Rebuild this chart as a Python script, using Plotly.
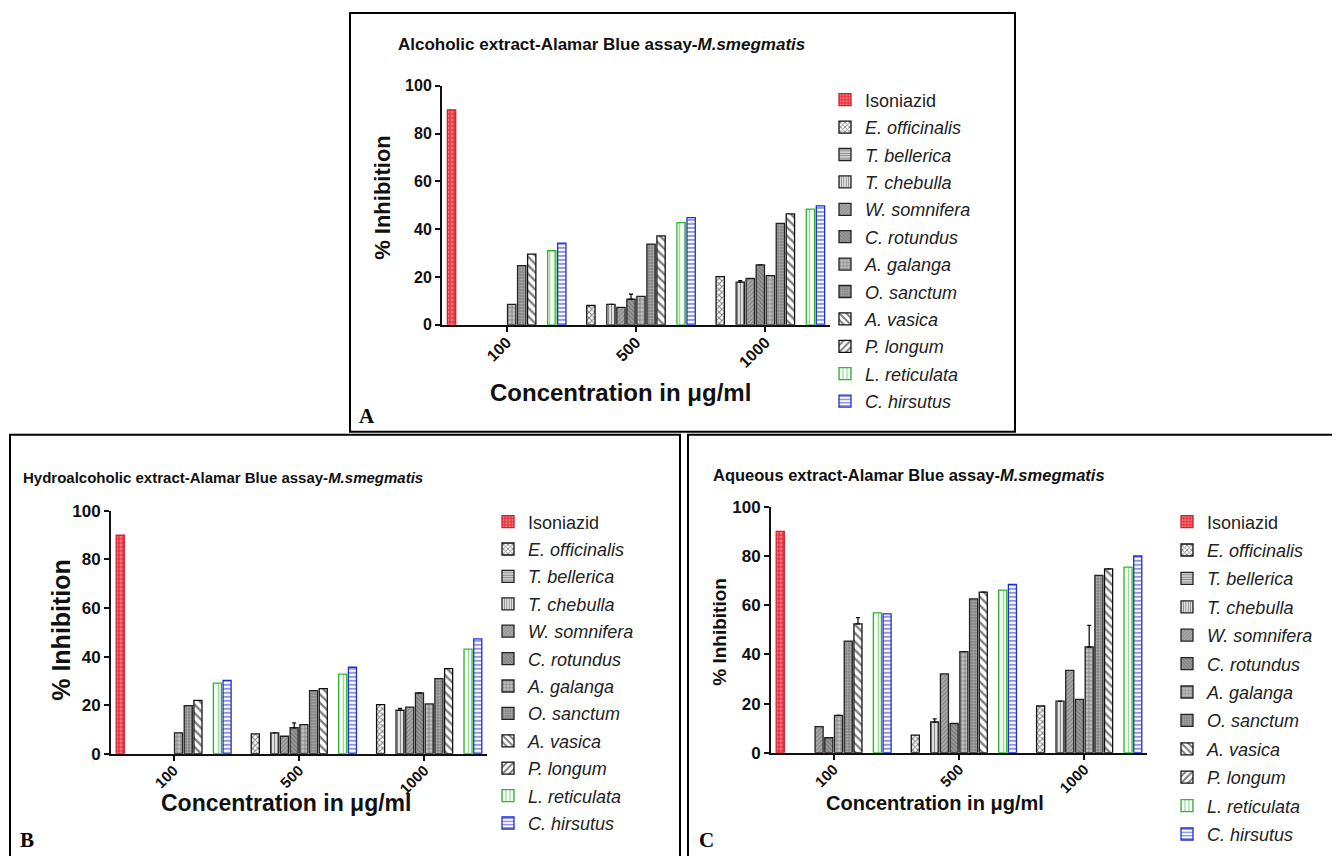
import plotly.graph_objects as go

W, H = 1340, 856

categories = ["100", "500", "1000"]
series = ["Isoniazid", "E. officinalis", "T. bellerica", "T. chebulla", "W. somnifera",
          "C. rotundus", "A. galanga", "O. sanctum", "A. vasica", "P. longum",
          "L. reticulata", "C. hirsutus"]

# Panel A - Alcoholic extract
alc_isoniazid = [90.0, None, None]
alc_e_officinalis = [None, 8.1, 20.2]
alc_t_bellerica = [None, None, None]
alc_t_chebulla = [None, 8.6, 17.9]
alc_w_somnifera = [None, 7.3, 19.4]
alc_c_rotundus = [None, 10.7, 25.1]
alc_a_galanga = [8.6, 11.9, 20.6]
alc_o_sanctum = [24.8, 33.8, 42.5]
alc_a_vasica = [29.6, 37.2, 46.4]
alc_p_longum = [None, None, None]
alc_l_reticulata = [31.0, 42.8, 48.4]
alc_c_hirsutus = [34.2, 44.9, 49.8]
alc_err_c_rotundus = [0, 2.1, 0]
alc_err_t_chebulla = [0, 0, 0.6]

# Panel B - Hydroalcoholic extract
hyd_isoniazid = [90.0, None, None]
hyd_e_officinalis = [None, 8.2, 20.2]
hyd_t_bellerica = [None, None, None]
hyd_t_chebulla = [None, 8.6, 17.9]
hyd_w_somnifera = [None, 7.2, 19.2]
hyd_c_rotundus = [None, 10.7, 25.0]
hyd_a_galanga = [8.6, 12.0, 20.5]
hyd_o_sanctum = [19.8, 26.0, 30.9]
hyd_a_vasica = [22.0, 26.8, 35.0]
hyd_p_longum = [None, None, None]
hyd_l_reticulata = [29.1, 32.8, 43.1]
hyd_c_hirsutus = [30.2, 35.6, 47.3]
hyd_err_c_rotundus = [0, 2.0, 0]
hyd_err_t_chebulla = [0, 0, 0.8]

# Panel C - Aqueous extract
aq_isoniazid = [90.0, None, None]
aq_e_officinalis = [None, 7.2, 19.0]
aq_t_bellerica = [None, None, None]
aq_t_chebulla = [None, 12.5, 21.0]
aq_w_somnifera = [10.6, 32.1, 33.5]
aq_c_rotundus = [6.1, 11.9, 21.7]
aq_a_galanga = [15.2, 41.1, 43.0]
aq_o_sanctum = [45.4, 62.6, 72.1]
aq_a_vasica = [52.4, 65.3, 74.8]
aq_p_longum = [None, None, None]
aq_l_reticulata = [56.9, 66.1, 75.5]
aq_c_hirsutus = [56.5, 68.4, 80.0]
aq_err_t_chebulla = [0, 1.3, 0]
aq_err_a_galanga = [0, 0, 8.8]
aq_err_a_vasica = [2.5, 0, 0]

yticks = [0, 20, 40, 60, 80, 100]

panels = [
    dict(name="A", values=[alc_isoniazid, alc_e_officinalis, alc_t_bellerica, alc_t_chebulla,
                           alc_w_somnifera, alc_c_rotundus, alc_a_galanga, alc_o_sanctum,
                           alc_a_vasica, alc_p_longum, alc_l_reticulata, alc_c_hirsutus],
         errors={3: alc_err_t_chebulla, 5: alc_err_c_rotundus}),
    dict(name="B", values=[hyd_isoniazid, hyd_e_officinalis, hyd_t_bellerica, hyd_t_chebulla,
                           hyd_w_somnifera, hyd_c_rotundus, hyd_a_galanga, hyd_o_sanctum,
                           hyd_a_vasica, hyd_p_longum, hyd_l_reticulata, hyd_c_hirsutus],
         errors={3: hyd_err_t_chebulla, 5: hyd_err_c_rotundus}),
    dict(name="C", values=[aq_isoniazid, aq_e_officinalis, aq_t_bellerica, aq_t_chebulla,
                           aq_w_somnifera, aq_c_rotundus, aq_a_galanga, aq_o_sanctum,
                           aq_a_vasica, aq_p_longum, aq_l_reticulata, aq_c_hirsutus],
         errors={3: aq_err_t_chebulla, 6: aq_err_a_galanga, 8: aq_err_a_vasica}),
]

styles = [
    dict(color="#e8323c", line="#d0202a", shape=".", fg="#ffc8c8", size=4, sol=0.45),
    dict(color="#ffffff", line="#111111", shape="x", fg="#000000", size=4, sol=0.45),
    dict(color="#cfcfcf", line="#222222", shape="-", fg="#333333", size=3, sol=0.35),
    dict(color="#e0e0e0", line="#222222", shape="|", fg="#333333", size=3, sol=0.35),
    dict(color="#a8a8a8", line="#222222", shape="/", fg="#505050", size=3, sol=0.3),
    dict(color="#989898", line="#222222", shape="\\", fg="#404040", size=3, sol=0.3),
    dict(color="#c0c0c0", line="#222222", shape="+", fg="#222222", size=4, sol=0.3),
    dict(color="#848484", line="#222222", shape=".", fg="#e0e0e0", size=3, sol=0.4),
    dict(color="#ffffff", line="#111111", shape="\\", fg="#000000", size=6, sol=0.4),
    dict(color="#ffffff", line="#111111", shape="/", fg="#000000", size=6, sol=0.4),
    dict(color="#ffffff", line="#2fb52f", shape="|", fg="#2fb52f", size=5, sol=0.3),
    dict(color="#ffffff", line="#1f2fd0", shape="-", fg="#1f2fd0", size=4, sol=0.5),
]

# page offset / scaling of the photographed page
X_OFF = 8
Y_OFF = 17.1
Y_K = 0.978


def px(x):
    return (x - X_OFF) / W


def fig_y(y):
    return (y - Y_OFF) / Y_K


def py(y):
    return 1 - fig_y(y) / H


fig = go.Figure()

for p_i, panel in enumerate(panels):
    suffix = "" if p_i == 0 else str(p_i + 1)
    for s_i, (name, vals) in enumerate(zip(series, panel["values"])):
        st = styles[s_i]
        label = name if s_i == 0 else "<i>" + name + "</i>"
        err = panel["errors"].get(s_i)
        trace = go.Bar(
            x=categories, y=vals, name=label,
            xaxis="x" + suffix, yaxis="y" + suffix,
            legend="legend" + suffix,
            legendgroup=panel["name"] + str(s_i),
            marker=dict(color=st["color"],
                        line=dict(color=st["line"], width=1.3),
                        pattern=dict(shape=st["shape"], fgcolor=st["fg"], size=st["size"],
                                     solidity=st["sol"], fillmode="overlay")),
        )
        if err is not None:
            trace.error_y = dict(type="data", array=err, arrayminus=[0, 0, 0], symmetric=False,
                                 color="#111111", thickness=1.3, width=2)
        fig.add_trace(trace)

# domains in reference pixels: (x0, x1, y_zero, y_hundred, x tick font, y tick font)
geo = [
    (442, 830, 325, 86, 16, 16),
    (111, 487, 754, 511, 15, 17),
    (771, 1147, 753, 507, 15, 17),
]

layout = dict(
    width=W, height=H, margin=dict(l=0, r=0, t=0, b=0),
    paper_bgcolor="white", plot_bgcolor="white",
    barmode="group", bargap=0.07, bargroupgap=0.17,
    font=dict(family="Liberation Sans, Arial", color="#111111"),
)

for p_i, (x0, x1, y0, y1, xfs, yfs) in enumerate(geo):
    suffix = "" if p_i == 0 else str(p_i + 1)
    layout["xaxis" + suffix] = dict(
        domain=[px(x0), px(x1)], anchor="y" + suffix, type="category",
        range=[-0.5, 2.5], showline=True, linecolor="#111111", linewidth=2,
        ticks="outside", ticklen=5, tickwidth=2, tickcolor="#111111",
        tickangle=-45, showgrid=False, zeroline=False, ticklabelstandoff=-5,
        tickfont=dict(family="Liberation Sans, Arial", size=xfs, color="#111111", weight="bold"),
    )
    layout["yaxis" + suffix] = dict(
        domain=[py(y0), py(y1)], anchor="x" + suffix, range=[0, 100],
        tickvals=yticks, showline=True, linecolor="#111111", linewidth=2,
        ticks="outside", ticklen=5, tickwidth=2, tickcolor="#111111",
        showgrid=False, zeroline=False,
        tickfont=dict(family="Liberation Sans, Arial", size=yfs, color="#111111", weight="bold"),
    )

# (left x of legend, centre y of first entry, font size, group gap)
legend_pos = [(825, 100, 18, 1), (488, 522, 18, 1), (1167, 522, 18, 2)]
for p_i, (lx, first_y, fs, gap) in enumerate(legend_pos):
    suffix = "" if p_i == 0 else str(p_i + 1)
    top_fig = fig_y(first_y) - 18.8
    layout["legend" + suffix] = dict(
        x=px(lx), y=1 - top_fig / H, xanchor="left", yanchor="top",
        font=dict(family="Liberation Sans, Arial", size=fs, color="#222222"),
        tracegroupgap=gap, bgcolor="rgba(0,0,0,0)", itemclick=False,
    )

fig.update_layout(**layout)

# frames
frames = [(350, 13, 1015, 432), (10, 435, 680, 875), (688, 435, 1338, 875)]
for (a, b, c, d) in frames:
    fig.add_shape(type="rect", xref="paper", yref="paper",
                  x0=px(a), x1=px(c), y0=py(d), y1=py(b),
                  line=dict(color="#000000", width=2))

ann = []


def bold(size):
    return dict(family="Liberation Sans, Arial", size=size, color="#111111", weight="bold")


ann.append(dict(x=px(601), y=py(45), text="Alcoholic extract-Alamar Blue assay-<i>M.smegmatis</i>",
                xanchor="center", yanchor="middle", font=bold(17)))
ann.append(dict(x=px(21), y=py(478), text="Hydroalcoholic extract-Alamar Blue assay-<i>M.smegmatis</i>",
                xanchor="left", yanchor="middle", font=bold(15)))
ann.append(dict(x=px(711), y=py(475), text="Aqueous extract-Alamar Blue assay-<i>M.smegmatis</i>",
                xanchor="left", yanchor="middle", font=bold(16.5)))

ytitle = [(383, 197, 22), (61, 630, 25), (720, 632, 19)]
for (x, y, s) in ytitle:
    ann.append(dict(x=px(x), y=py(y), text="% Inhibition", textangle=-90,
                    xanchor="center", yanchor="middle", font=bold(s)))

xtitle = [(620, 393, 24), (286, 803, 23), (935, 803, 20)]
for (x, y, s) in xtitle:
    ann.append(dict(x=px(x), y=py(y), text="Concentration in μg/ml",
                    xanchor="center", yanchor="middle", font=bold(s)))

labels = [("A", 357, 416), ("B", 18, 840), ("C", 697, 840)]
for (t, x, y) in labels:
    ann.append(dict(x=px(x), y=py(y), text=t, xanchor="left", yanchor="middle",
                    font=dict(family="Liberation Serif, Times New Roman", size=21,
                              color="#000000", weight="bold")))

for a in ann:
    a.update(xref="paper", yref="paper", showarrow=False)
fig.update_layout(annotations=ann)

fig.write_html("out.html")
